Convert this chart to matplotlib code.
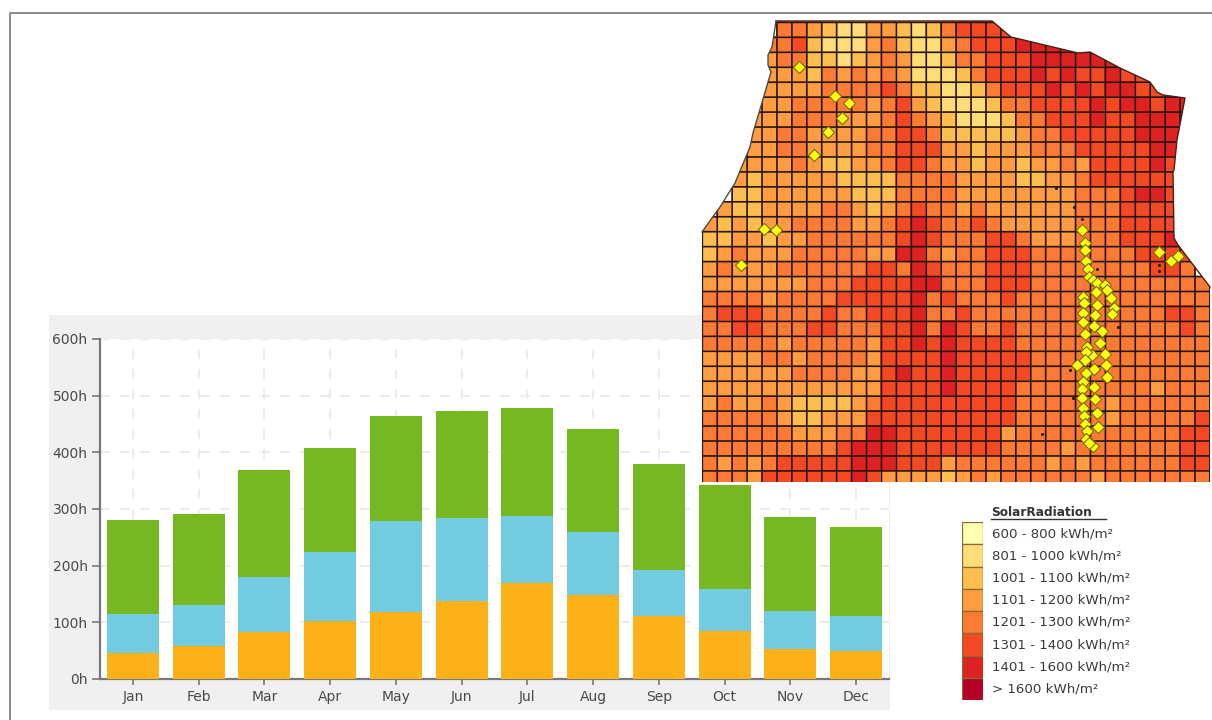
import numpy as np
import matplotlib
matplotlib.use("Agg")
import matplotlib.pyplot as plt
from matplotlib.colors import ListedColormap, BoundaryNorm
from matplotlib.patches import Polygon, Rectangle
from matplotlib.lines import Line2D

# ---------- bar chart data ----------
months = ["Jan", "Feb", "Mar", "Apr", "May", "Jun", "Jul", "Aug", "Sep", "Oct", "Nov", "Dec"]
cum_orange = [46, 58, 83, 103, 118, 138, 170, 148, 111, 85, 53, 50]
cum_blue = [115, 130, 180, 224, 279, 284, 288, 259, 192, 159, 120, 111]
cum_green = [280, 291, 369, 407, 464, 473, 478, 441, 379, 342, 286, 268]
y_ticks = [0, 100, 200, 300, 400, 500, 600]

# ---------- map data: class code per grid cell ('.' = outside) ----------
map_rows = [
    ".....5543224432356666.............",
    "....556322245322456667777.........",
    "....455332345422355666777777......",
    "....44435454542223566676766766....",
    "....444455556533223566676767766...",
    "....4455555456432223556666767767" + "7.",
    "...44455544456543222355666766777" + "7.",
    "...44554444556653333345566666777" + "7.",
    "...44554444556664434445556666677" + "7.",
    "..444454334456654434434454666676" + "..",
    "..434444433335555444433445666666" + "..",
    "..334444443335555444444445556776" + "..",
    ".433444455434565545444444555666" + "6..",
    "434344555544567655654444455566" + "66..",
    "334434455555567655566544455566" + "67..",
    "34544455555447754556665555555666" + "6.",
    "45444555555665765556665555555566" + "5.",
    "44444445556666775556665555555555" + "55",
    "55554555566666756555655555555555" + "55",
    "56665555655666755655555555555556" + "65",
    "55665556655566757655655555555555" + "65",
    "55555455555466767666655555555555" + "55",
    "44445545555466667666665555555555" + "55",
    "44444455554467667666665555555555" + "55",
    "44444444444466667666655555555545" + "55",
    "45445433334566666666655555545555" + "55",
    "55555433444666666666655555545555" + "56",
    "55555544455776666666455555555555" + "66",
    "55555555567776666666555545555555" + "66",
    "54545666667776664555555454555555" + "66",
    "55546666667644443454555555455555" + "55",
]
class_labels = ["600 - 800 kWh/m²", "801 - 1000 kWh/m²", "1001 - 1100 kWh/m²", "1101 - 1200 kWh/m²",
                "1201 - 1300 kWh/m²", "1301 - 1400 kWh/m²", "1401 - 1600 kWh/m²", "> 1600 kWh/m²"]
class_colors = ["#ffffb2", "#fedc78", "#fdbe50", "#fd9c40", "#fb7b35", "#f34a24", "#de2222", "#b5002a"]

boundary_x = [776, 992, 1011, 1078, 1090, 1120, 1150, 1157, 1163, 1185, 1177, 1174, 1173, 1174, 1178, 1210,
              1210, 702, 702, 712, 720, 735, 750, 753, 771, 768, 768, 772]
boundary_y = [21, 21, 37, 53, 52, 68, 82, 92, 95, 98, 140, 170, 172, 238, 245, 287,
              482, 482, 232, 218, 207, 183, 147, 133, 72, 65, 55, 47]

site_x = [799, 835, 849.3, 842.3, 828, 814.3, 764.3, 775.7, 741.3, 1082.3, 1085, 1159.3, 1170.7, 1177.7,
          1084.7, 1086, 1087.7, 1089.3, 1093.3, 1096.7, 1105, 1096, 1107.3, 1111, 1097.3, 1114.3, 1112.3,
          1095.3, 1094, 1101.7, 1100.3, 1105.3, 1092.3, 1106.3, 1094.3, 1106.7, 1094.3, 1095, 1096.7, 1097.7,
          1093.3, 1083.3, 1084, 1083.3, 1083, 1085, 1087.3, 1085.7, 1085, 1076.7, 1086, 1083.3, 1082.3, 1082.3,
          1083.3, 1084, 1085, 1086.7, 1085.7, 1089]
site_y = [66.7, 96.3, 102.7, 118, 132.3, 154.7, 229.3, 230.3, 265, 230, 243.3, 251.7, 260.7, 255.7,
          250, 260.7, 269, 276.7, 280, 283.3, 285, 291.7, 290, 297.7, 305, 307.7, 314.3,
          315, 326, 330.7, 343.3, 354, 355, 365, 369.3, 376.7, 386.7, 399.3, 413.3, 426.7,
          446, 296.7, 303.3, 313.3, 322.3, 334, 346.7, 351.7, 360, 365, 373.3, 381.7, 389.3, 397.7,
          407.7, 415.7, 424, 430.7, 439.3, 443.3]
speck_x = [1055.7, 1074, 1082.3, 1159, 1159, 1118, 1070, 1073, 1104, 1042, 1096.7]
speck_y = [188.3, 207.3, 219.3, 265, 271, 326.7, 370, 397.7, 410.7, 434, 269]

W, H = 1212, 720


def rect(l, t, r, b):
    return [l / W, 1 - b / H, (r - l) / W, (b - t) / H]


plt.rcParams["font.family"] = ["DejaVu Sans"]
fig = plt.figure(figsize=(W / 100, H / 100), dpi=100, facecolor="white")

# window frame and chart panel
fig.add_artist(Line2D([10 / W, 10 / W, 1], [0, 1 - 12.5 / H, 1 - 12.5 / H], color="#8a8a8a", lw=1.4))
fig.add_artist(Rectangle((49 / W, 1 - 710 / H), 841 / W, 395 / H, transform=fig.transFigure,
                         facecolor="#f0f0f0", edgecolor="none"))

# ---------- stacked bars ----------
ax = fig.add_axes(rect(100, 339, 889, 679), zorder=1)
x = np.arange(len(months))
c1, c2, c3 = map(np.array, (cum_orange, cum_blue, cum_green))
bw = 0.79
ax.bar(x, c1, bw, color="#fdb119", zorder=3)
ax.bar(x, c2 - c1, bw, bottom=c1, color="#72cbdf", zorder=3)
ax.bar(x, c3 - c2, bw, bottom=c2, color="#76b821", zorder=3)
ax.set_xlim(-0.5, 11.5)
ax.set_ylim(0, 600)
ax.set_xticks(x)
ax.set_xticklabels(months)
ax.set_yticks(y_ticks)
ax.set_yticklabels([f"{v}h" for v in y_ticks])
ax.tick_params(axis="x", labelsize=10, labelcolor="#4a4a4a", color="#777777", length=4, width=1.2, pad=4)
ax.tick_params(axis="y", labelsize=10, labelcolor="#4a4a4a", color="#777777", length=6, width=1.2, pad=3)
ax.grid(True, color="#e9e9e9", lw=1.2, ls=(0, (6, 6)), zorder=0)
ax.set_axisbelow(True)
for s in ("top", "right"):
    ax.spines[s].set_visible(False)
for s in ("left", "bottom"):
    ax.spines[s].set_color("#777777")
    ax.spines[s].set_linewidth(1.6)

# ---------- map ----------
mp = fig.add_axes(rect(700, 18, 1212, 484), zorder=3)
mp.patch.set_alpha(0)
mp.set_xlim(700, 1212)
mp.set_ylim(484, 18)
mp.axis("off")
n_rows, n_cols = len(map_rows), len(map_rows[0])
grid = np.ma.masked_less(np.array([[0 if ch == "." else int(ch) for ch in row.ljust(n_cols, ".")[:n_cols]]
                                   for row in map_rows], dtype=float), 1)
xe = 702.3 + 14.93 * np.arange(n_cols + 1)
ye = 22.4 + 14.95 * np.arange(n_rows + 1)
cmap = ListedColormap(class_colors)
norm = BoundaryNorm(np.arange(0.5, 9.5), cmap.N)
outline = Polygon(np.c_[boundary_x, boundary_y], closed=True, facecolor="none", transform=mp.transData)
mesh = mp.pcolormesh(xe, ye, grid, cmap=cmap, norm=norm, edgecolors="face", linewidth=0.3)
mesh.set_clip_path(outline)
for lines in (mp.vlines(xe, ye[0], ye[-1], color="#2a150a", linewidth=1.2, zorder=2),
              mp.hlines(ye, xe[0], xe[-1], color="#2a150a", linewidth=1.2, zorder=2)):
    lines.set_clip_path(outline)
    lines.set_snap(False)
mp.plot(boundary_x[:16], boundary_y[:16], color="#4a2015", lw=1.0, zorder=3)
mp.plot(boundary_x[18:] + boundary_x[:1], boundary_y[18:] + boundary_y[:1], color="#4a4a4a", lw=1.0, zorder=3)
mp.scatter(speck_x, speck_y, s=5, color="#2a1a10", zorder=4, linewidths=0)
mp.scatter(site_x, site_y, marker="D", s=38, facecolor="#ffff14", edgecolor="#7a7000", linewidths=0.8, zorder=5)

# ---------- legend ----------
lg = fig.add_axes(rect(962, 522, 983, 700), zorder=2)
lg.set_xlim(0, 1)
lg.set_ylim(len(class_labels), 0)
lg.axis("off")
lg.barh(np.arange(len(class_colors)) + 0.5, 1, 1, color=class_colors, edgecolor="#8a6a30", linewidth=0.9)
lg.patch.set_alpha(0)
fig.text(991 / W, 1 - 512 / H, "SolarRadiation", fontsize=8.7, fontweight="bold", color="#333333", va="center")
fig.add_artist(Line2D([991 / W, 1106 / W], [1 - 519 / H, 1 - 519 / H], color="#333333", lw=1))
for i, lab in enumerate(class_labels):
    fig.text(992 / W, 1 - (534 + i * 22.1) / H, lab, fontsize=9.6, color="#3a3a3a", va="center")

fig.savefig("out.png", dpi=100)
